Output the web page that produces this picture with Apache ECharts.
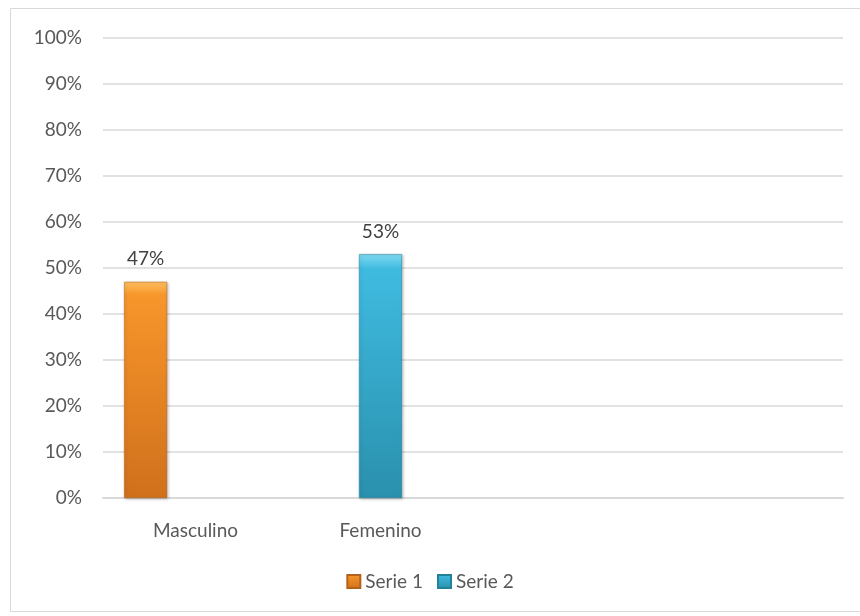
<!DOCTYPE html>
<html><head><meta charset="utf-8">
<script src="https://cdn.jsdelivr.net/npm/echarts@6/dist/echarts.min.js"></script>
<style>html,body{margin:0;padding:0;background:#fff}#c{width:860px;height:616px}</style>
</head><body><div id="c"></div>
<script>
const categories = ['Masculino', 'Femenino', '', ''];
const serie1 = [0.47, null, null, null];
const serie2 = [null, 0.53, null, null];
const serie3 = [null, null, null, null];
const seriesNames = ['Serie 1', 'Serie 2'];

const FONT = 'Lato';
const chart = echarts.init(document.getElementById('c'), null, {renderer: 'canvas'});
function grad(top, mid, bot) {
  return new echarts.graphic.LinearGradient(0, 0, 0, 1, [
    {offset: 0, color: top}, {offset: 0.06, color: mid}, {offset: 1, color: bot}
  ]);
}
const pct = v => Math.round(v * 100) + '%';
const labelCfg = {show: true, position: 'top', formatter: p => pct(p.value), color: '#404040', fontFamily: FONT, fontSize: 19, distance: 13};
chart.setOption({
  animation: false,
  graphic: [{type: 'rect', shape: {x: 10.5, y: 8.5, width: 860, height: 603}, style: {fill: 'none', stroke: '#d9d9d9', lineWidth: 1}, silent: true}],
  grid: {left: 103, right: 17, top: 38, bottom: 118, containLabel: false},
  legend: {
    data: seriesNames, bottom: 20, left: 'center', itemWidth: 13, itemHeight: 13, itemGap: 14,
    icon: 'rect',
    textStyle: {color: '#595959', fontFamily: FONT, fontSize: 19}
  },
  xAxis: {
    type: 'category', data: categories,
    axisLine: {lineStyle: {color: '#d9d9d9', width: 2}},
    axisTick: {show: false},
    axisLabel: {color: '#595959', fontFamily: FONT, fontSize: 19, margin: 23}
  },
  yAxis: {
    type: 'value', min: 0, max: 1, interval: 0.1,
    axisLine: {show: false}, axisTick: {show: false},
    axisLabel: {formatter: v => Math.round(v * 100) + '%', color: '#595959', fontFamily: FONT, fontSize: 19, margin: 21},
    splitLine: {lineStyle: {color: '#d9d9d9', width: 1.5}}
  },
  series: [
    {name: 'Serie 1', type: 'bar', data: serie1, barWidth: 43, barGap: '16%',
     itemStyle: {color: grad('#ffc060', '#f7962a', '#d0701c'), borderColor: '#b2621a', borderWidth: 0.5, shadowColor: 'rgba(0,0,0,0.25)', shadowBlur: 3, shadowOffsetX: 1, shadowOffsetY: 1},
     label: labelCfg},
    {name: 'Serie 2', type: 'bar', data: serie2, barWidth: 43,
     itemStyle: {color: grad('#7fdaf2', '#3fbbe0', '#2a90ad'), borderColor: '#23809a', borderWidth: 0.5, shadowColor: 'rgba(0,0,0,0.25)', shadowBlur: 3, shadowOffsetX: 1, shadowOffsetY: 1},
     label: labelCfg},
    {name: 'Serie 3', type: 'bar', data: serie3, barWidth: 43}
  ]
});
</script></body></html>
